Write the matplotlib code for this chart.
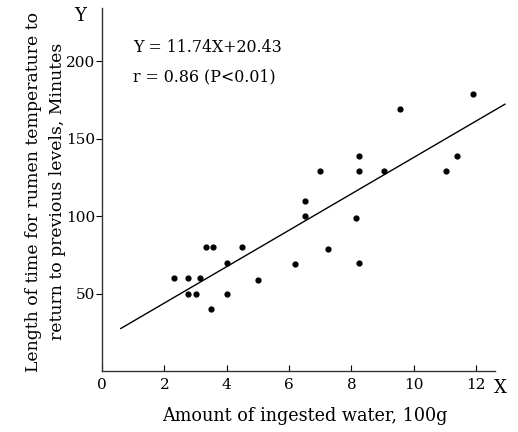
import numpy as np
import matplotlib
matplotlib.use("Agg")
import matplotlib.pyplot as plt

plt.rcParams['font.family'] = ['DejaVu Serif']

# water intake (100 g) vs minutes for rumen temperature to recover
water = [2.3, 2.75, 2.75, 3.0, 3.15, 3.35, 3.55, 3.5, 4.0, 4.0, 4.5, 5.0, 6.2,
         6.5, 6.5, 7.0, 7.25, 8.15, 8.25, 8.25, 8.25, 9.05, 9.55, 11.05, 11.4, 11.9]
minutes = [60, 60, 50, 50, 60, 80, 80, 40, 70, 50, 80, 59, 69,
           100, 110, 129, 79, 99, 129, 139, 70, 129, 169, 129, 139, 179]
slope, intercept = 11.74, 20.43
line_x = [0.6, 12.93]
xticks = [0, 2, 4, 6, 8, 10, 12]
yticks = [50, 100, 150, 200]

fig = plt.figure(figsize=(5.18, 4.32), dpi=100)
ax = fig.add_axes([0.197, 0.141, 0.782, 0.843])

ax.scatter(water, minutes, s=12, color='black', zorder=3)
lx = np.array(line_x)
ax.plot(lx, slope * lx + intercept, color='black', lw=1.0)

ax.set_xlim(0, 13)
ax.set_ylim(0, 235)
ax.spines['top'].set_visible(False)
ax.spines['right'].set_visible(False)
ax.spines['bottom'].set_bounds(0, 12.6)
ax.spines['left'].set_bounds(0, 234)
for s in ('left', 'bottom'):
    ax.spines[s].set_color('#333333')
    ax.spines[s].set_linewidth(1.0)

ax.set_xticks(xticks)
ax.set_yticks(yticks)
ax.tick_params(axis='x', direction='in', length=4, labelsize=11, pad=5)
ax.tick_params(axis='y', direction='out', length=4, labelsize=11, pad=1)

ax.text(12.78, -11, 'X', fontsize=13, ha='center', va='center', clip_on=False)
ax.text(-0.7, 229, 'Y', fontsize=13, ha='center', va='center', clip_on=False)

ax.text(1.0, 209, 'Y = 11.74X+20.43', fontsize=11.4, va='center')
ax.text(1.0, 190, 'r = 0.86 (P<0.01)', fontsize=11.4, va='center')

ax.set_xlabel('Amount of ingested water, 100g', fontsize=12.7, labelpad=11)
fig.text(0.088, 0.556, 'Length of time for rumen temperature to\nreturn to previous levels, Minutes',
         rotation=90, fontsize=12.4, ha='center', va='center', multialignment='center',
         linespacing=1.55)

fig.savefig('out.png', dpi=100)
